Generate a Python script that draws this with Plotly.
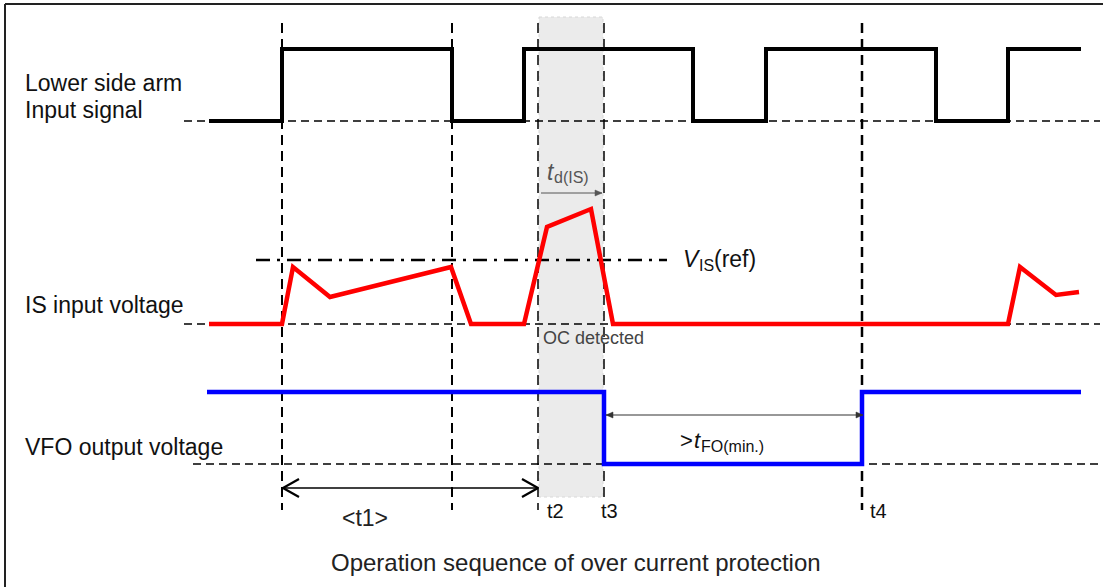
import plotly.graph_objects as go

# ---------------- data (time axis in diagram units, level axis downward) -------------
# Lower side arm input signal (step waveform, 'hv')
input_t = [209, 282, 452, 524, 693, 766, 936, 1008, 1081]
input_v = [121, 49, 121, 49, 121, 49, 121, 49, 49]

# IS input voltage (polyline)
is_t = [209, 282, 293, 330, 451, 471, 524, 547, 591, 613, 1008, 1020, 1056, 1079]
is_v = [324, 324, 267, 297, 267, 324, 324, 227, 209, 324, 324, 267, 295, 292]

# VFO output voltage (step waveform, 'hv')
vfo_t = [207, 604, 862, 1081]
vfo_v = [392, 464, 392, 392]

# vertical timing guides
guide_x = [282, 452, 538, 604, 862]
guide_top = [23, 23, 23, 23, 23]
guide_bot = [510, 510, 510, 497, 510]
guide_w = [2, 2, 1.5, 1.5, 2.5]

# horizontal zero-level guides
base_y = [121, 324, 464]
base_x0 = [184, 184, 193]
base_x1 = [1100, 1100, 1100]

# V_IS(ref) threshold line
ref_level = 260
ref_span = [256, 667]

# t_d(IS) shaded window
td_window = [539, 603]
td_window_v = [17, 497]

# arrows: (x_start, x_end, level)
t1_arrow = [283, 538, 488]
td_arrow = [541, 602, 193]
tfo_arrow = [606, 863, 415]

signal_labels = ["Lower side arm", "Input signal", "IS input voltage", "VFO output voltage"]
signal_label_y = [83, 110, 305, 447]
time_labels = ["t2", "t3", "t4"]
time_label_x = [545, 599, 868]
time_label_y = 511
title_text = "Operation sequence of over current protection"

FONT = "Liberation Sans, Arial, sans-serif"

fig = go.Figure()

# shaded detection window
fig.add_shape(type="rect", xref="x", yref="y",
              x0=td_window[0], x1=td_window[1], y0=td_window_v[0], y1=td_window_v[1],
              fillcolor="#ebebeb", line=dict(color="#d8d8d8", width=1, dash="dot"),
              layer="below")


def line(xs, ys, color, width, dash="solid", shape="linear"):
    fig.add_trace(go.Scatter(x=xs, y=ys, mode="lines", line_shape=shape,
                             line=dict(color=color, width=width, dash=dash),
                             hoverinfo="skip", showlegend=False))


# horizontal dashed baselines
for y, x0, x1 in zip(base_y, base_x0, base_x1):
    line([x0, x1], [y, y], "black", 1.6, "8px,5px")

# vertical dashed guides
for x, y0, y1, w in zip(guide_x, guide_top, guide_bot, guide_w):
    line([x, x], [y0, y1], "black", w, "10px,6px")

# V_IS(ref) dash-dot line
line(ref_span, [ref_level, ref_level], "black", 2.6, "14px,7px,3px,7px")

# signals
line(input_t, input_v, "black", 4, shape="hv")
line(is_t, is_v, "#ff0000", 4.5)
line(vfo_t, vfo_v, "#0000ff", 4.5, shape="hv")


# arrows (heads computed from arrow endpoints)
def arrow(spec, color, width, hlen, hhalf, both, open_head):
    xs, xe, y = spec
    line([xs, xe], [y, y], color, width)
    ends = [(xe, -1)] + ([(xs, 1)] if both else [])
    for xp, d in ends:
        hx = [xp + d * hlen, xp, xp + d * hlen]
        hy = [y - hhalf, y, y + hhalf]
        if open_head:
            line(hx, hy, color, width + 0.6)
        else:
            fig.add_trace(go.Scatter(x=hx + [hx[0]], y=hy + [hy[0]], mode="lines",
                                     fill="toself", fillcolor=color,
                                     line=dict(color=color, width=0.5),
                                     hoverinfo="skip", showlegend=False))


arrow(t1_arrow, "black", 1.6, 16, 9, True, True)
arrow(td_arrow, "#555555", 1.0, 7, 3, False, False)
arrow(tfo_arrow, "#333333", 1.2, 7, 3, True, False)


def text(x, y, s, size, color="#111111", style="normal", anchor="left"):
    fig.add_annotation(x=x, y=y, xref="x", yref="y", text=s, showarrow=False,
                       xanchor=anchor, yanchor="middle", align="left",
                       font=dict(family=FONT, size=size, color=color, style=style))


# signal labels
for txt, y in zip(signal_labels, signal_label_y):
    text(23, y, txt, 23)

# time labels
for txt, x in zip(time_labels, time_label_x):
    text(x, time_label_y, txt, 20)

text(365, 518, "&lt;t1&gt;", 23, "#222222", anchor="center")
text(541, 338, "OC detected", 18, "#444444")

# t_d(IS)
text(545, 172, "t", 23, "#555555", style="italic")
text(552, 177, "d(IS)", 16, "#555555")

# V_IS(ref)
text(681, 259, "V", 23, style="italic")
text(697, 265, "IS", 16)
text(712, 259, "(ref)", 23)

# >t_FO(min.)
text(678, 440, "&gt;", 22)
text(692, 440, "t", 22, style="italic")
text(699, 446, "FO(min.)", 16)

# title
text(576, 562, title_text, 24, "#222222", anchor="center")

# frame (top and left edges)
fig.add_shape(type="line", xref="paper", yref="paper", x0=5 / 1103, x1=1, y0=1 - 4 / 587, y1=1 - 4 / 587,
              line=dict(color="#222222", width=2))
fig.add_shape(type="line", xref="paper", yref="paper", x0=5 / 1103, x1=5 / 1103, y0=0, y1=1 - 4 / 587,
              line=dict(color="#222222", width=2))

fig.update_layout(
    width=1103, height=587,
    margin=dict(l=0, r=0, t=0, b=0),
    paper_bgcolor="white", plot_bgcolor="white",
    xaxis=dict(range=[0, 1103], visible=False, fixedrange=True),
    yaxis=dict(range=[587, 0], visible=False, fixedrange=True),
    showlegend=False,
)

fig.write_html("out.html", config={"displayModeBar": False},
               post_script="document.body.style.margin='0';document.body.style.overflow='hidden';")
